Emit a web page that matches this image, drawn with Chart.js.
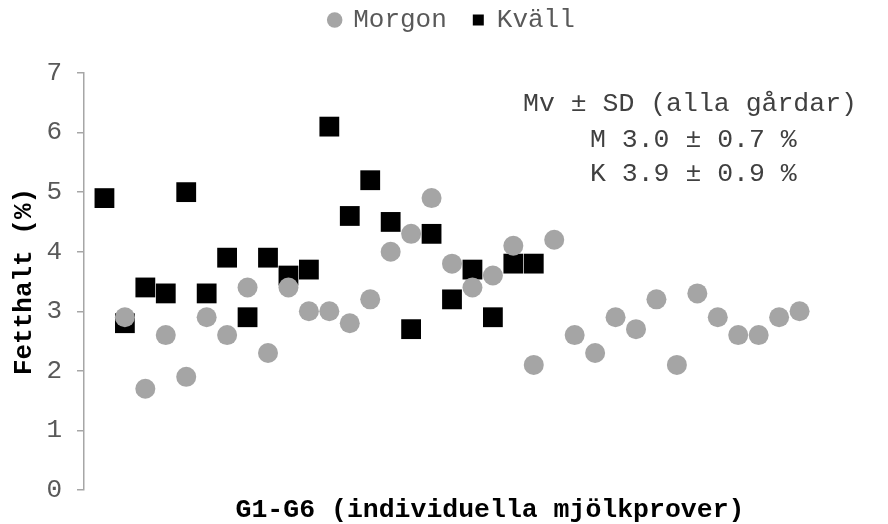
<!DOCTYPE html>
<html>
<head>
<meta charset="utf-8">
<script src="https://cdn.jsdelivr.net/npm/chart.js@4.4.1/dist/chart.umd.min.js"></script>
<style>
  html, body { margin: 0; padding: 0; background: #fff; }
  #wrap { width: 888px; height: 524px; }
</style>
</head>
<body>
<div id="wrap"><canvas id="fatChart" width="888" height="524"></canvas></div>
<script>
// Provnummer (x) och fetthalt i % (y) per mjölkning
const morgonProv = [2, 3, 4, 5, 6, 7, 8, 9, 10, 11, 12, 13, 14, 15, 16, 17, 18, 19, 20, 21, 22, 23, 24, 25, 26, 27, 28, 29, 30, 31, 32, 33, 34, 35];
const morgonFett = [2.9, 1.7, 2.6, 1.9, 2.9, 2.6, 3.4, 2.3, 3.4, 3.0, 3.0, 2.8, 3.2, 4.0, 4.3, 4.9, 3.8, 3.4, 3.6, 4.1, 2.1, 4.2, 2.6, 2.3, 2.9, 2.7, 3.2, 2.1, 3.3, 2.9, 2.6, 2.6, 2.9, 3.0];
const kvallProv = [1, 2, 3, 4, 5, 6, 7, 8, 9, 10, 11, 12, 13, 14, 15, 16, 17, 18, 19, 20, 21, 22];
const kvallFett = [4.9, 2.8, 3.4, 3.3, 5.0, 3.3, 3.9, 2.9, 3.9, 3.6, 3.7, 6.1, 4.6, 5.2, 4.5, 2.7, 4.3, 3.2, 3.7, 2.9, 3.8, 3.8];

const yTicks = [0, 1, 2, 3, 4, 5, 6, 7];
const seriesNames = ['Morgon', 'Kväll'];
const xTitle = 'G1-G6 (individuella mjölkprover)';
const yTitle = 'Fetthalt (%)';
const noteLines = ['Mv ± SD (alla gårdar)', 'M 3.0 ± 0.7 %', 'K 3.9 ± 0.9 %'];

const FONT = '"Liberation Mono", "Courier New", monospace';

function toPoints(xs, ys) {
    return xs.map((x, i) => ({ x: x, y: ys[i] }));
}

// Extra luft under legenden så att diagramytan börjar lägre
const legendGap = {
    id: 'legendGap',
    beforeLayout(chart) {
        const legend = chart.legend;
        if (legend && !legend._gapPatched) {
            const fit = legend.fit;
            legend.fit = function () {
                fit.call(this);
                this.height += 30;
            };
            legend._gapPatched = true;
        }
    }
};

// Textruta med medelvärden + x-axelns rubrik (sitter lite förskjuten i originalet)
const textPlugin = {
    id: 'textBox',
    afterDraw(chart) {
        const ctx = chart.ctx;
        ctx.save();
        ctx.fillStyle = '#404040';
        ctx.font = '26.5px ' + FONT;
        ctx.textBaseline = 'middle';
        ctx.textAlign = 'left';
        ctx.fillText(noteLines[0], 523, 104);
        ctx.fillText(noteLines[1], 590, 140);
        ctx.fillText(noteLines[2], 590, 174);

        ctx.fillStyle = '#000';
        ctx.font = 'bold 26.5px ' + FONT;
        ctx.textAlign = 'center';
        ctx.fillText(xTitle, 490, 510);
        ctx.restore();
    }
};

new Chart(document.getElementById('fatChart'), {
    type: 'scatter',
    data: {
        datasets: [
            {
                label: seriesNames[0],
                data: toPoints(morgonProv, morgonFett),
                pointStyle: 'circle',
                pointRadius: 10,
                pointHoverRadius: 10,
                backgroundColor: '#a5a5a5',
                borderColor: '#a5a5a5',
                borderWidth: 0
            },
            {
                label: seriesNames[1],
                data: toPoints(kvallProv, kvallFett),
                pointStyle: 'rect',
                pointRadius: 14,
                pointHoverRadius: 14,
                backgroundColor: '#000',
                borderColor: '#000',
                borderWidth: 0
            }
        ]
    },
    options: {
        responsive: false,
        animation: false,
        layout: { padding: { top: -19, right: 68, bottom: 0, left: 0 } },
        plugins: {
            tooltip: { enabled: false },
            legend: {
                position: 'top',
                fullSize: false,
                labels: {
                    usePointStyle: true,
                    boxWidth: 11,
                    boxHeight: 11,
                    color: '#595959',
                    padding: 26,
                    font: { family: FONT, size: 26 }
                }
            }
        },
        scales: {
            x: {
                type: 'linear',
                min: 0,
                max: 36,
                ticks: { display: false },
                grid: { display: false },
                border: { display: false },
                afterFit(scale) { scale.height = 34; }
            },
            y: {
                min: 0,
                max: 7,
                afterBuildTicks(scale) { scale.ticks = yTicks.map(v => ({ value: v })); },
                ticks: {
                    color: '#595959',
                    padding: 15,
                    font: { family: FONT, size: 26 }
                },
                grid: { drawOnChartArea: false, drawTicks: true, tickLength: 7, color: '#a6a6a6', lineWidth: 1.5 },
                border: { display: true, color: '#a6a6a6', width: 1.5 },
                title: {
                    display: true,
                    text: yTitle,
                    color: '#000',
                    padding: { top: 9, bottom: 0 },
                    font: { family: FONT, size: 26, weight: 'bold' }
                },
                afterFit(scale) { scale.width = 84; }
            }
        }
    },
    plugins: [legendGap, textPlugin]
});
</script>
</body>
</html>
